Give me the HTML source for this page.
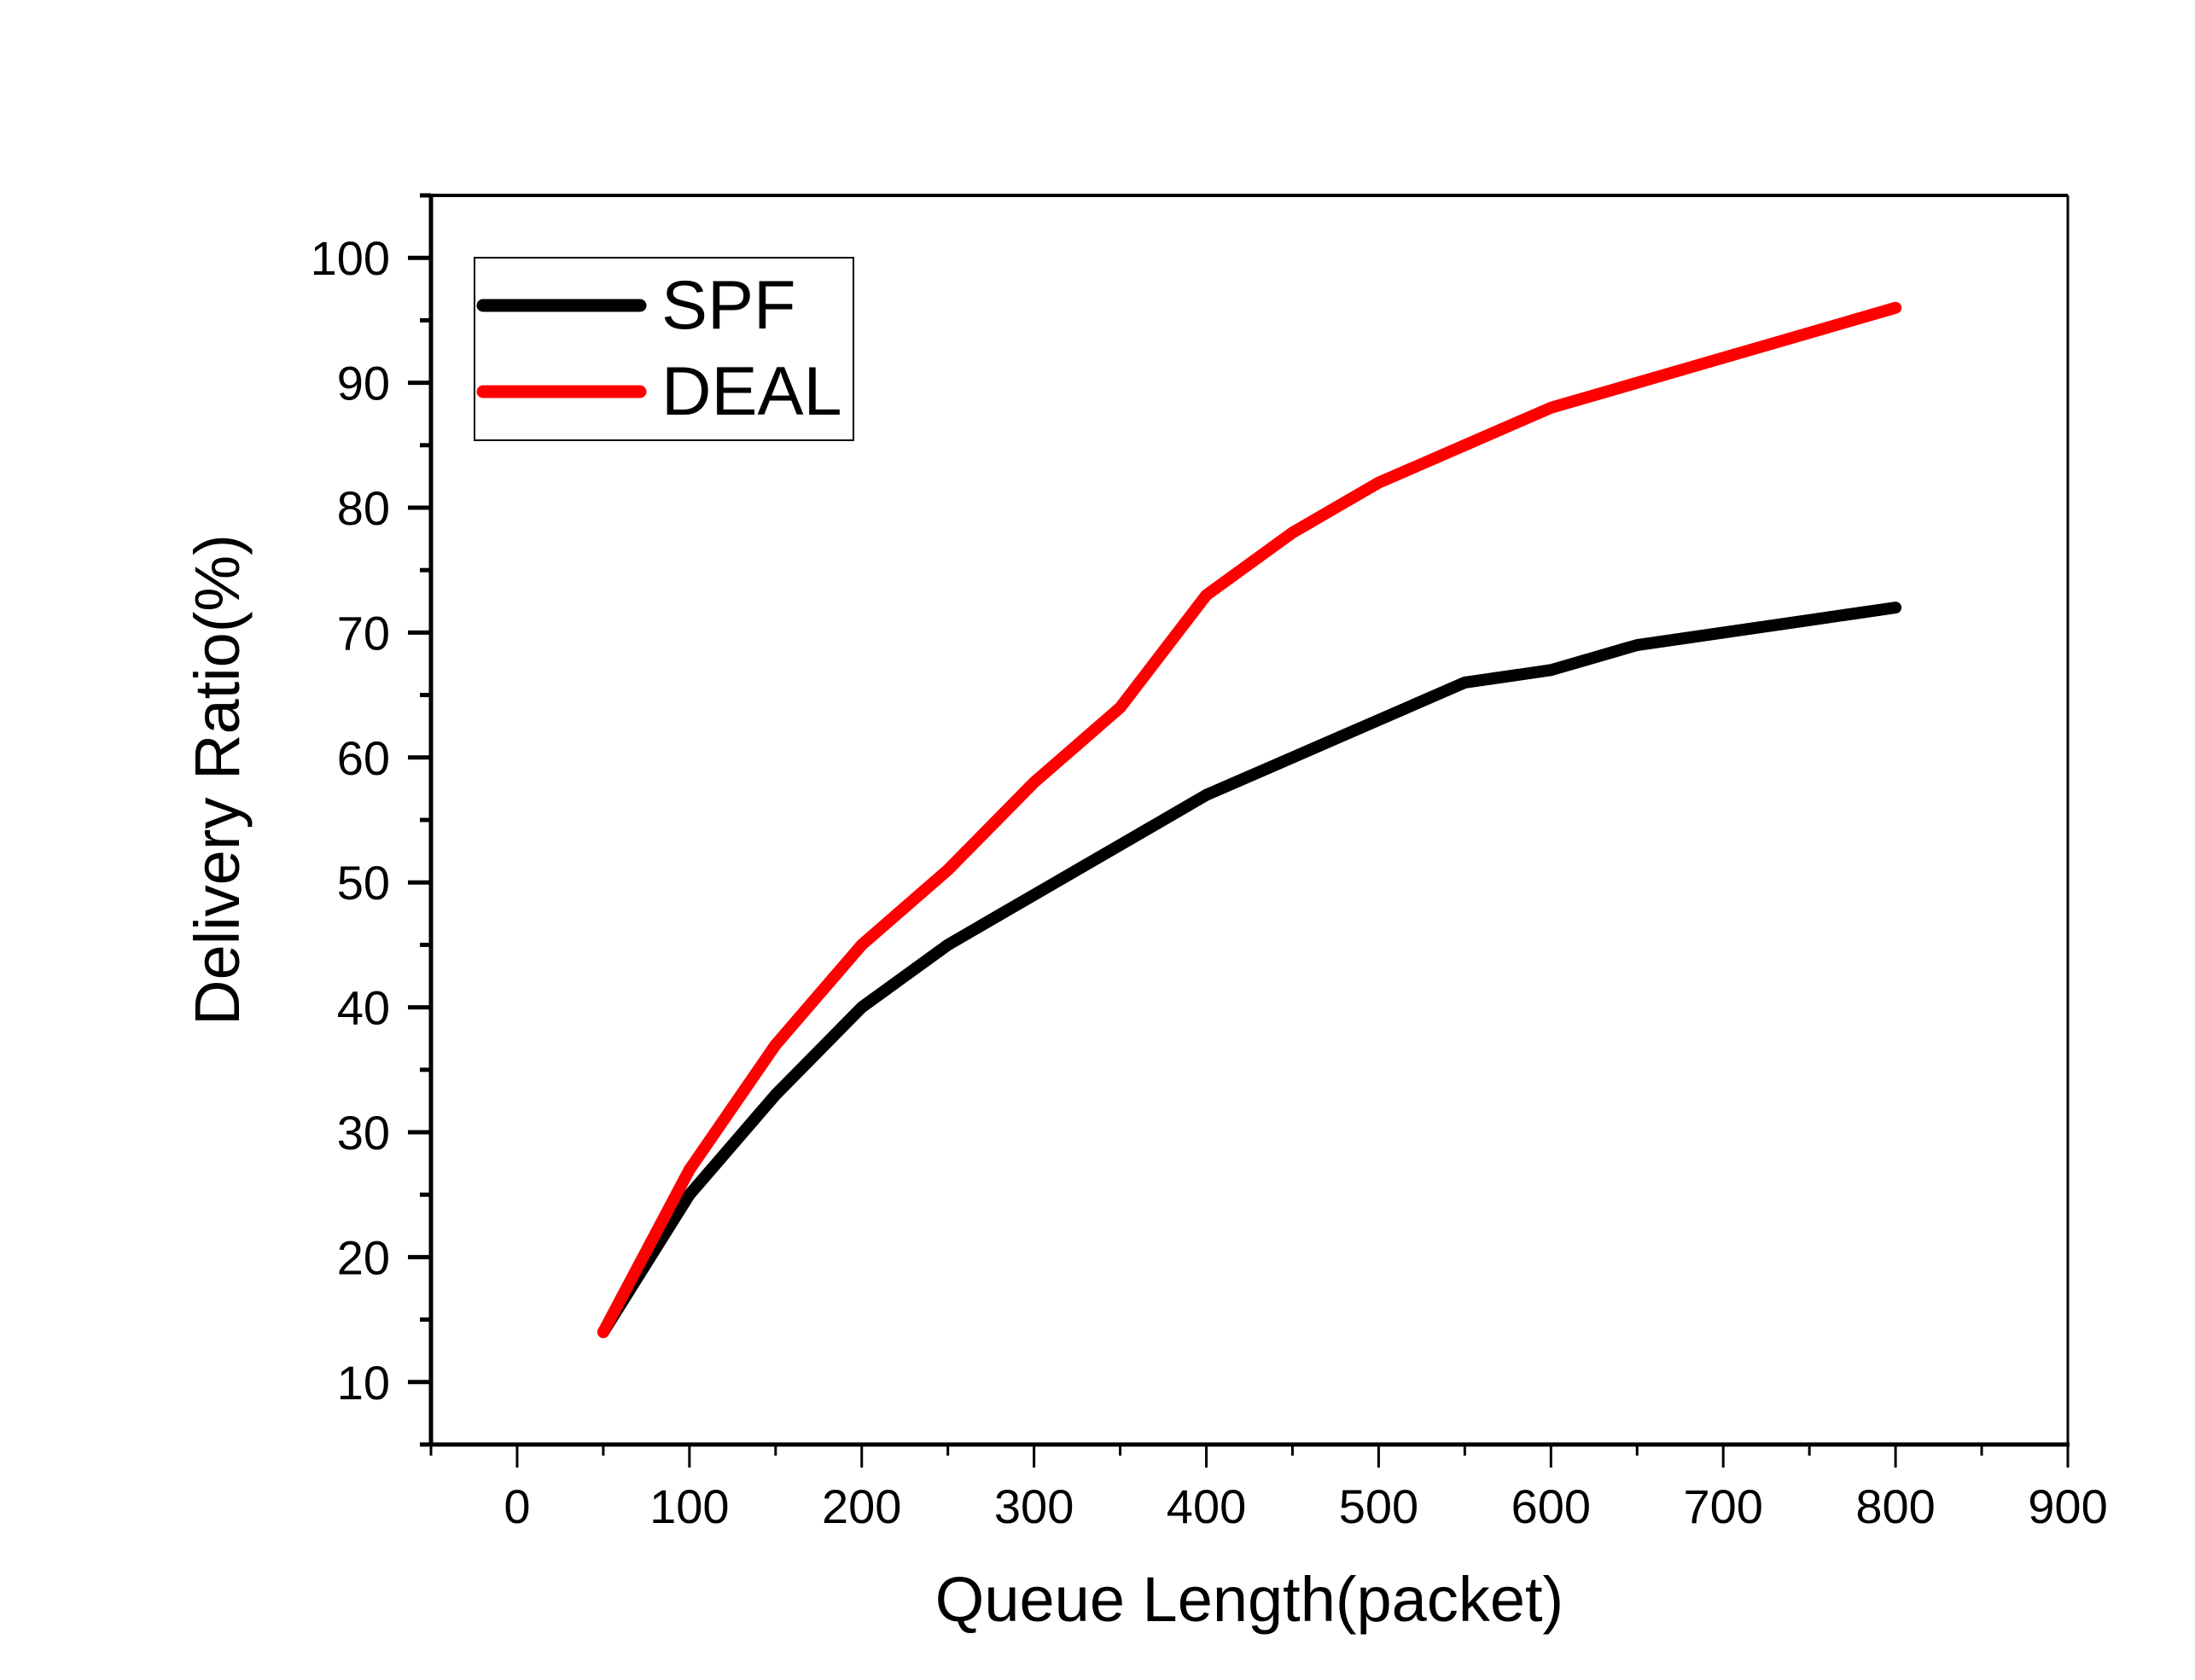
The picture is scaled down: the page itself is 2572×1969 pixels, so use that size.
<!DOCTYPE html>
<html><head><meta charset="utf-8"><style>
html,body{margin:0;padding:0;background:#fff;}
svg{display:block;font-family:"Liberation Sans",Arial,sans-serif;}
</style></head><body>
<svg id="chart" width="2572" height="1969" viewBox="0 0 2572 1969" xmlns="http://www.w3.org/2000/svg">
<g id="axes"></g>
<g id="series"></g>
<g id="legend">
  <rect x="556" y="302" width="444" height="214" fill="#fff" stroke="#000" stroke-width="2"/>
  <line x1="566" y1="358" x2="750" y2="358" stroke="#000" stroke-width="15" stroke-linecap="round"/>
  <text x="775" y="385" font-size="81">SPF</text>
  <line x1="566" y1="459" x2="750" y2="459" stroke="#f00" stroke-width="15" stroke-linecap="round"/>
  <text x="775" y="486" font-size="81">DEAL</text>
</g>
<text x="1464" y="1900" font-size="74" text-anchor="middle">Queue Length(packet)</text>
<text transform="translate(280,914) rotate(-90)" font-size="74" text-anchor="middle">Delivery Ratio(%)</text>
</svg>
<script>
const xCats = [50,100,150,200,250,300,350,400,450,500,550,600,650,700,750,800];
const spfValues = [14,25,33,40,45,49,53,57,60,63,66,67,69,70,71,72];
const dealValues = [14,27,37,45,51,58,64,73,78,82,85,88,90,92,94,96];
const xTicks = [0,100,200,300,400,500,600,700,800,900];
const yTicks = [10,20,30,40,50,60,70,80,90,100];

const L=505,R=2423,T=229,B=1693;
const xMin=-50,xMax=900,yMin=5,yMax=105;
function sx(v){return L+(v-xMin)/(xMax-xMin)*(R-L);}
function sy(v){return B-(v-yMin)/(yMax-yMin)*(B-T);}
const NS='http://www.w3.org/2000/svg';
function mk(tag,attrs,parent){const e=document.createElementNS(NS,tag);for(const k in attrs)e.setAttribute(k,attrs[k]);parent.appendChild(e);return e;}
const axes=document.getElementById('axes');
let e;
e=mk('line',{x1:L,y1:T,x2:R,y2:T,stroke:'#000','stroke-width':4},axes);


e=mk('line',{x1:R,y1:T,x2:R,y2:B,stroke:'#000','stroke-width':3},axes);


e=mk('line',{x1:L,y1:T-2,x2:L,y2:B+2,stroke:'#000','stroke-width':5},axes);


e=mk('line',{x1:L-3,y1:B,x2:R+2,y2:B,stroke:'#000','stroke-width':5},axes);


for(let v=-50;v<=900;v+=50){
  const major=(v%100===0);
  e=mk('line',{x1:sx(v),y1:B,x2:sx(v),y2:B+(major?27:13),stroke:'#000','stroke-width':3},axes);
  
  
}
xTicks.forEach(v=>{
  e=mk('text',{x:sx(v),y:1785,'font-size':56,'text-anchor':'middle'},axes);
  e.textContent=v;
  
  
});
for(let v=5;v<=105;v+=5){
  const major=(v%10===0);
  e=mk('line',{x1:L-(major?27:13),y1:sy(v),x2:L,y2:sy(v),stroke:'#000','stroke-width':5},axes);
  
  
}
yTicks.forEach(v=>{
  e=mk('text',{x:457,y:sy(v)+20,'font-size':56,'text-anchor':'end'},axes);
  e.textContent=v;
  
  
});
const series=document.getElementById('series');
function line(vals,color,name){
  const pts=xCats.map((x,i)=>sx(x)+','+sy(vals[i])).join(' ');
  const p=mk('polyline',{points:pts,fill:'none',stroke:color,'stroke-width':14,'stroke-linejoin':'round','stroke-linecap':'round'},series);
  
  
}
line(spfValues,'#000','spf-line');
line(dealValues,'#f00','deal-line');
</script>
</body></html>
